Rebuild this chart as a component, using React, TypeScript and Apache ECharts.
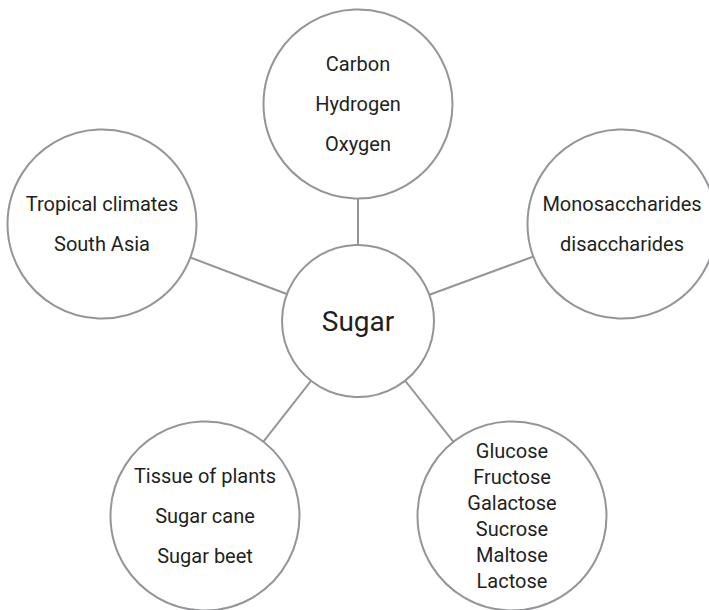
import React, { useEffect, useRef } from "react";
import * as echarts from "echarts";

// Concept map: Sugar
const nodeNames = ["Sugar", "Elements", "Types", "Regions", "Sources", "Kinds"];
const nodeLabels = [
  "Sugar",
  "Carbon\nHydrogen\nOxygen",
  "Monosaccharides\ndisaccharides",
  "Tropical climates\nSouth Asia",
  "Tissue of plants\nSugar cane\nSugar beet",
  "Glucose\nFructose\nGalactose\nSucrose\nMaltose\nLactose",
];
const links: [string, string][] = [
  ["Sugar", "Elements"],
  ["Sugar", "Types"],
  ["Sugar", "Regions"],
  ["Sugar", "Sources"],
  ["Sugar", "Kinds"],
];

// layout (pixel coordinates of each node centre, diameter, label font size / line height)
const layoutX = [358, 358, 622, 102, 205, 512];
const layoutY = [321, 104, 224, 224, 516, 516];
const layoutSize = [152, 189, 189, 189, 189, 189];
const layoutFont = [28, 20, 20, 20, 20, 20];
const layoutLine = [32, 40, 40, 40, 40, 26];

export default function App() {
  const ref = useRef<HTMLDivElement>(null);
  useEffect(() => {
    if (!ref.current) return;
    const chart = echarts.init(ref.current, undefined, { renderer: "svg" });
    const gray = "#939598";
    const textColor = "#231f20";
    chart.setOption({
      animation: false,
      backgroundColor: "#ffffff",
      grid: { left: 0, right: 0, top: 0, bottom: 0 },
      xAxis: { type: "value", min: 0, max: 709, show: false },
      yAxis: { type: "value", min: 0, max: 610, inverse: true, show: false },
      series: [
        {
          type: "graph",
          coordinateSystem: "cartesian2d",
          layout: "none",
          symbol: "circle",
          data: nodeNames.map((n, i) => ({
            name: n,
            value: [layoutX[i], layoutY[i]],
            symbolSize: layoutSize[i],
            label: {
              show: true,
              position: "inside",
              formatter: nodeLabels[i],
              fontFamily: "Roboto, 'Liberation Sans', sans-serif",
              fontSize: layoutFont[i],
              lineHeight: layoutLine[i],
              color: textColor,
            },
          })),
          links: links.map(([s, t]) => ({ source: s, target: t })),
          itemStyle: { color: "#ffffff", borderColor: gray, borderWidth: 2 },
          lineStyle: { color: gray, width: 2, opacity: 1, curveness: 0 },
          emphasis: { disabled: true },
        },
      ],
    });
    return () => chart.dispose();
  }, []);
  return (
    <div
      ref={ref}
      style={{ position: "fixed", left: 0, top: 0, width: 709, height: 610 }}
    />
  );
}
